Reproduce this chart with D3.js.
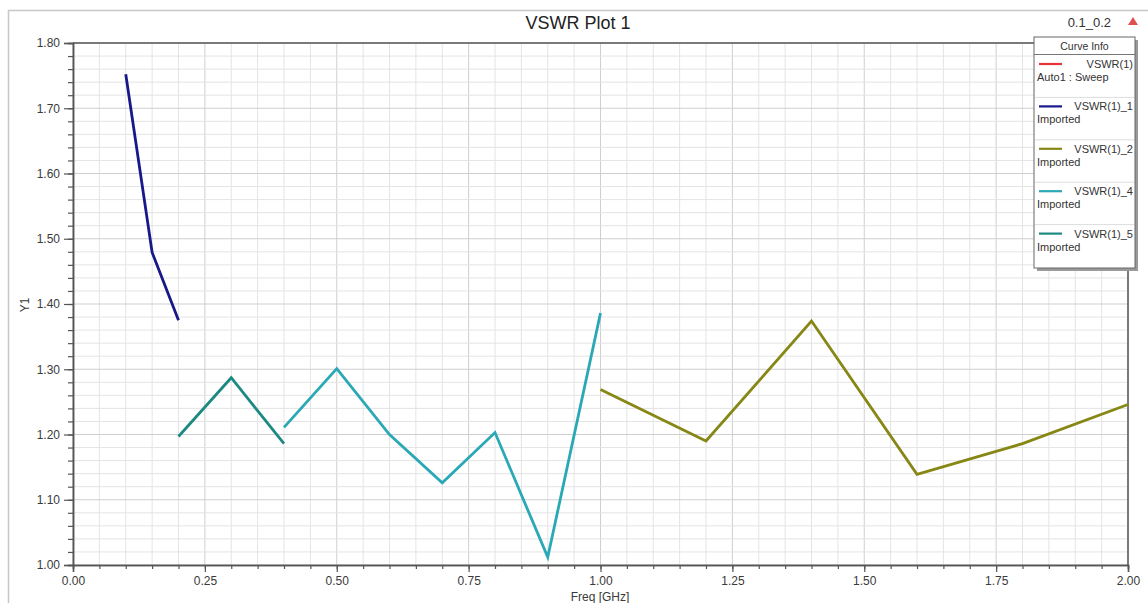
<!DOCTYPE html>
<html><head><meta charset="utf-8">
<script src="https://cdn.jsdelivr.net/npm/d3@7"></script>
<style>
body{margin:0;background:#fff;}
svg{display:block;font-family:"Liberation Sans",Arial,sans-serif;}
</style></head><body>
<svg id="c" width="1148" height="603"></svg>
<script>
const title = "VSWR Plot 1";
const xLabel = "Freq [GHz]";
const yLabel = "Y1";
const xTicks = [0, 0.25, 0.5, 0.75, 1.0, 1.25, 1.5, 1.75, 2.0];
const yTicks = [1.0, 1.1, 1.2, 1.3, 1.4, 1.5, 1.6, 1.7, 1.8];

const freq1 = [0.10, 0.15, 0.20];
const vswr1 = [1.752, 1.479, 1.375];
const freq5 = [0.20, 0.30, 0.40];
const vswr5 = [1.197, 1.287, 1.186];
const freq4 = [0.40, 0.50, 0.60, 0.70, 0.80, 0.90, 1.00];
const vswr4 = [1.211, 1.301, 1.200, 1.126, 1.203, 1.012, 1.386];
const freq2 = [1.00, 1.20, 1.40, 1.60, 1.80, 2.00];
const vswr2 = [1.269, 1.190, 1.374, 1.139, 1.186, 1.246];

const seriesNames = ["VSWR(1)", "VSWR(1)_1", "VSWR(1)_2", "VSWR(1)_4", "VSWR(1)_5"];
const seriesSub = ["Auto1 : Sweep", "Imported", "Imported", "Imported", "Imported"];
const seriesColors = ["#e8333a", "#18188a", "#878716", "#2aa8b6", "#1d8a82"];

const curves = [
  {f: freq1, v: vswr1, c: seriesColors[1]},
  {f: freq5, v: vswr5, c: seriesColors[4]},
  {f: freq4, v: vswr4, c: seriesColors[3]},
  {f: freq2, v: vswr2, c: seriesColors[2]}
];

const svg = d3.select("#c");
const L = 73, R = 1128, T = 43, B = 565;
const x = d3.scaleLinear().domain([0, 2]).range([L, R]);
const y = d3.scaleLinear().domain([1.0, 1.8]).range([B, T]);

// outer frame
svg.append("rect").attr("x", 8.5).attr("y", 10.5).attr("width", 1200).attr("height", 700)
  .attr("fill", "none").attr("stroke", "#c8c8c8").attr("stroke-width", 1.5);

// grid
const xMinor = d3.range(0, 2.0001, 0.05);
const yMinor = d3.range(1.0, 1.8001, 0.02);
const g = svg.append("g");
g.selectAll(".vx").data(xMinor).enter().append("line")
  .attr("x1", d => x(d)).attr("x2", d => x(d)).attr("y1", T).attr("y2", B)
  .attr("stroke", (d, i) => i % 5 === 0 ? "#cfcfcf" : "#e4e4e4").attr("stroke-width", 1);
g.selectAll(".hy").data(yMinor).enter().append("line")
  .attr("y1", d => y(d)).attr("y2", d => y(d)).attr("x1", L).attr("x2", R)
  .attr("stroke", (d, i) => i % 5 === 0 ? "#cfcfcf" : "#e4e4e4").attr("stroke-width", 1);

// axes
const xAxis = d3.axisBottom(x).tickValues(xTicks).tickFormat(d3.format(".2f")).tickSize(7).tickPadding(4);
const xAxisMinor = d3.axisBottom(x).tickValues(xMinor).tickFormat("").tickSize(4);
const yAxis = d3.axisLeft(y).tickValues(yTicks).tickFormat(d3.format(".2f")).tickSize(9).tickPadding(4);
const yAxisMinor = d3.axisLeft(y).tickValues(yMinor).tickFormat("").tickSize(5);

function styleAxis(sel) {
  sel.selectAll("path").attr("stroke", "#555").attr("stroke-width", 1.5);
  sel.selectAll("line").attr("stroke", "#555").attr("stroke-width", 1.2);
  sel.selectAll("text").attr("fill", "#3a3a3a").style("font-size", "12px");
}
svg.append("g").attr("transform", `translate(0,${B})`).call(xAxisMinor).call(styleAxis);
svg.append("g").attr("transform", `translate(0,${B})`).call(xAxis).call(styleAxis);
svg.append("g").attr("transform", `translate(${L},0)`).call(yAxisMinor).call(styleAxis);
svg.append("g").attr("transform", `translate(${L},0)`).call(yAxis).call(styleAxis);

// top and right borders
svg.append("line").attr("x1", L).attr("x2", R).attr("y1", T).attr("y2", T).attr("stroke", "#555").attr("stroke-width", 1.5);
svg.append("line").attr("x1", R).attr("x2", R).attr("y1", T).attr("y2", B).attr("stroke", "#555").attr("stroke-width", 1.5);

// curves
const line = d3.line().x(d => x(d[0])).y(d => y(d[1]));
curves.forEach(cv => {
  const pts = cv.f.map((f, i) => [f, cv.v[i]]);
  svg.append("path").datum(pts).attr("d", line).attr("fill", "none")
    .attr("stroke", cv.c).attr("stroke-width", 2.8).attr("stroke-linejoin", "miter");
});

// titles
svg.append("text").attr("x", 578).attr("y", 29).attr("text-anchor", "middle")
  .style("font-size", "18px").attr("fill", "#222").text(title);
svg.append("text").attr("x", 600).attr("y", 601).attr("text-anchor", "middle")
  .style("font-size", "12px").attr("fill", "#3a3a3a").text(xLabel);
svg.append("text").attr("transform", "translate(29,305) rotate(-90)").attr("text-anchor", "middle")
  .style("font-size", "12px").attr("fill", "#3a3a3a").text(yLabel);
svg.append("text").attr("x", 1111).attr("y", 27).attr("text-anchor", "end")
  .style("font-size", "13px").attr("fill", "#333").text("0.1_0.2");
svg.append("path").attr("d", "M1133,17 L1138,25 L1128,25 Z").attr("fill", "#e05050");

// legend
const lg = svg.append("g");
const LX = 1034, LY = 37, LW = 101, LH = 231;
lg.append("rect").attr("x", LX + 3).attr("y", LY + 3).attr("width", LW).attr("height", LH).attr("fill", "#9a9a9a");
lg.append("rect").attr("x", LX).attr("y", LY).attr("width", LW).attr("height", LH)
  .attr("fill", "#fff").attr("stroke", "#666").attr("stroke-width", 1);
lg.append("text").attr("x", LX + LW / 2).attr("y", LY + 13).attr("text-anchor", "middle")
  .style("font-size", "10.5px").attr("fill", "#333").text("Curve Info");
lg.append("line").attr("x1", LX).attr("x2", LX + LW).attr("y1", LY + 17.5).attr("y2", LY + 17.5).attr("stroke", "#777");
seriesNames.forEach((nm, i) => {
  const top = LY + 18 + i * 42.4;
  if (i > 0) lg.append("line").attr("x1", LX + 1).attr("x2", LX + LW - 1).attr("y1", top).attr("y2", top).attr("stroke", "#ddd");
  lg.append("line").attr("x1", LX + 5).attr("x2", LX + 28).attr("y1", top + 9).attr("y2", top + 9)
    .attr("stroke", seriesColors[i]).attr("stroke-width", 2.2);
  lg.append("text").attr("x", LX + LW - 2).attr("y", top + 13).attr("text-anchor", "end")
    .style("font-size", "11px").attr("fill", "#333").text(nm);
  lg.append("text").attr("x", LX + 3).attr("y", top + 26).attr("text-anchor", "start")
    .style("font-size", "11px").attr("fill", "#333").text(seriesSub[i]);
});
</script>
</body></html>
